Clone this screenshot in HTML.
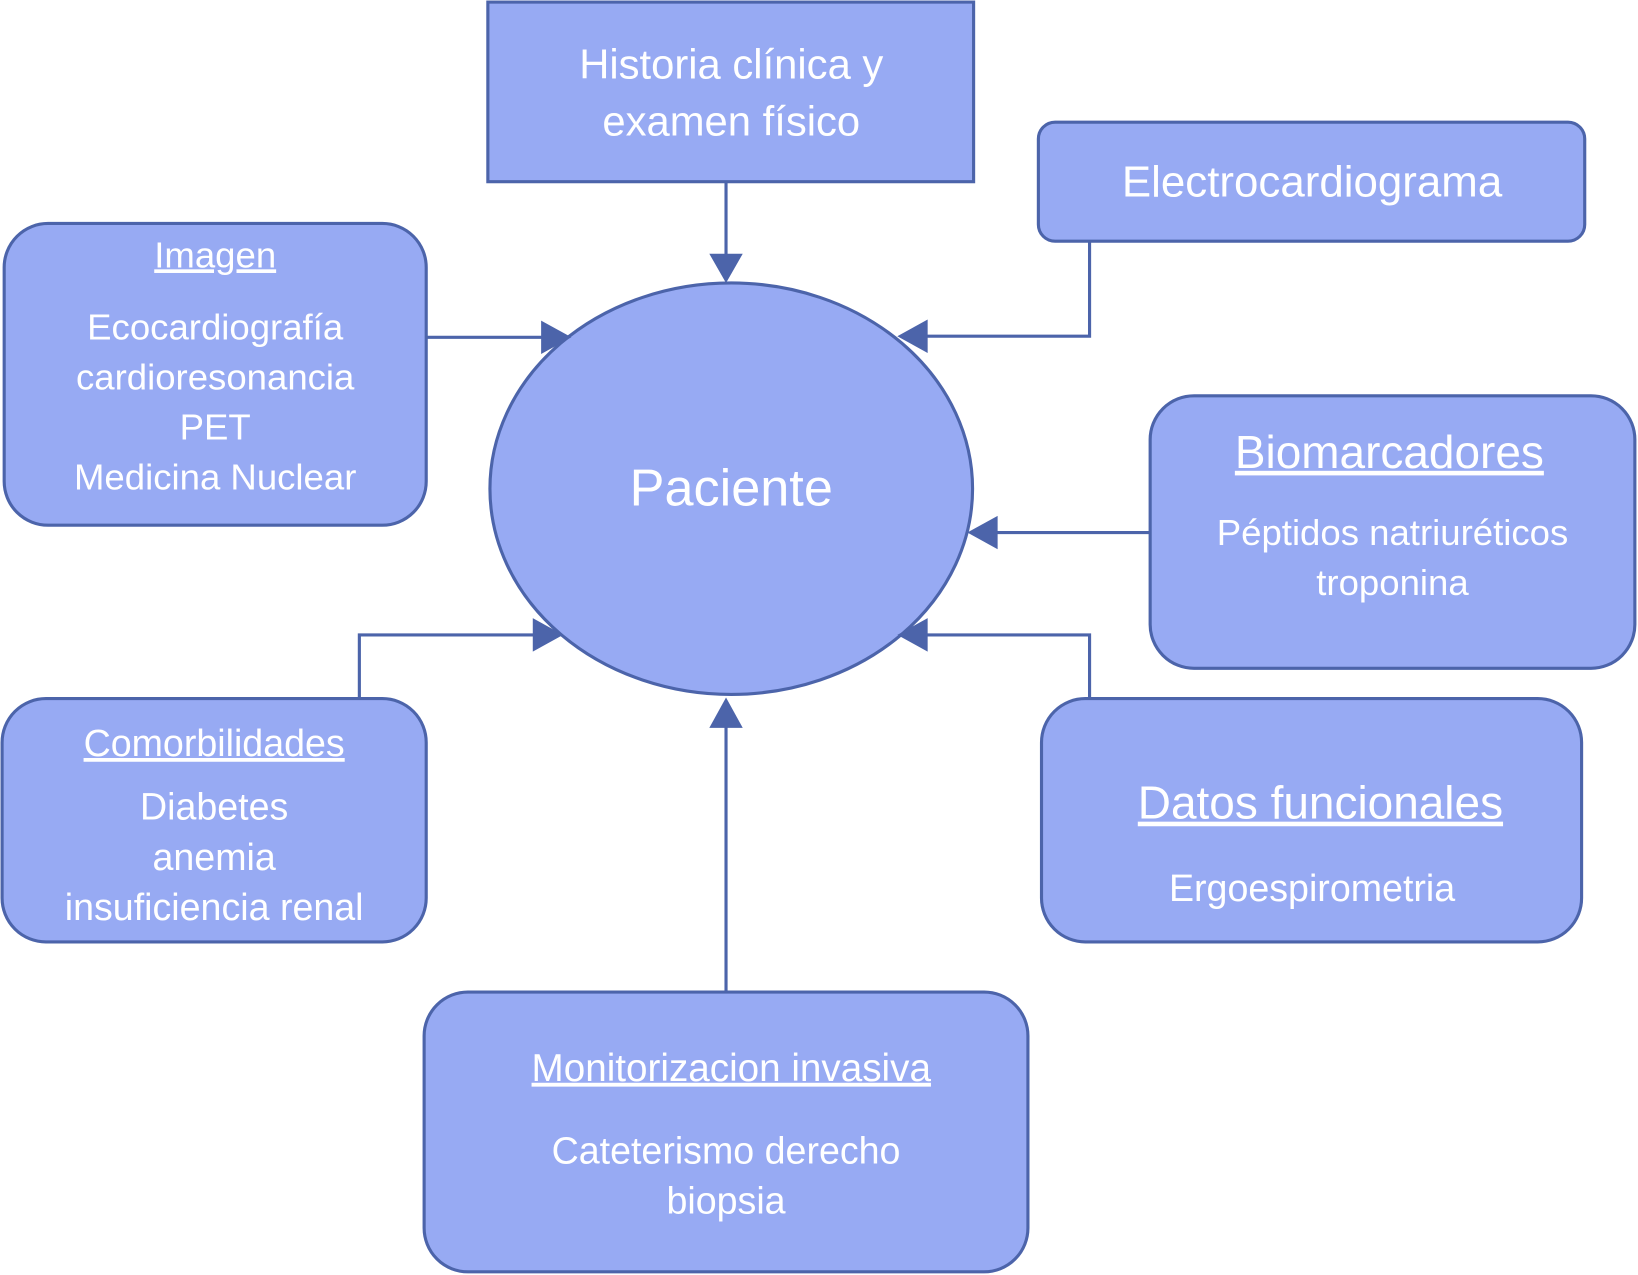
<!DOCTYPE html>
<html><head><meta charset="utf-8"><style>html,body{margin:0;padding:0;background:#fff}svg{display:block}</style></head>
<body>
<svg width="1638" height="1275" viewBox="0 0 1568 1221" preserveAspectRatio="none" xmlns="http://www.w3.org/2000/svg" font-family="Liberation Sans, Arial, sans-serif" fill="#fff">
<g fill="#97aaf3" stroke="#4c64aa" stroke-width="3">
<rect x="467" y="2" width="465" height="172"/>
<rect x="994" y="117" width="523" height="114" rx="16"/>
<rect x="4" y="214" width="404" height="289" rx="42"/>
<rect x="1101" y="379" width="464" height="261" rx="42"/>
<rect x="2" y="669" width="406" height="233" rx="42"/>
<rect x="997" y="669" width="517" height="233" rx="42"/>
<rect x="406" y="950" width="578" height="268" rx="42"/>
<ellipse cx="700" cy="468" rx="231" ry="197"/>
</g>
<g stroke="#4c64aa" stroke-width="3" fill="none">
<path d="M695 174V245"/>
<path d="M408 323H520"/>
<path d="M1043 231V322H886"/>
<path d="M1101 510H953"/>
<path d="M344 669V608H512"/>
<path d="M1043 669V608H886"/>
<path d="M695 950V695"/>
</g>
<g fill="#4c64aa">
<path d="M679 243H711L695 271Z"/>
<path d="M518 307V339L547 323Z"/>
<path d="M888 306V338L859 322Z"/>
<path d="M955 494V526L926 510Z"/>
<path d="M510 592V624L539 608Z"/>
<path d="M888 592V624L859 608Z"/>
<path d="M679 697H711L695 668Z"/>
</g>
<g text-anchor="middle" font-size="40">
<text x="700" y="75">Historia clínica y</text>
<text x="700" y="130">examen físico</text>
<text x="1256" y="188" font-size="42">Electrocardiograma</text>
<text x="700" y="484" font-size="50">Paciente</text>
<text x="206" y="256" font-size="35" text-decoration="underline">Imagen</text>
<text x="206" y="325" font-size="35">Ecocardiografía</text>
<text x="206" y="373" font-size="35">cardioresonancia</text>
<text x="206" y="421" font-size="35">PET</text>
<text x="206" y="469" font-size="35">Medicina Nuclear</text>
<text x="1330" y="448" font-size="44" text-decoration="underline">Biomarcadores</text>
<text x="1333" y="522" font-size="35">Péptidos natriuréticos</text>
<text x="1333" y="570" font-size="35">troponina</text>
<text x="205" y="724" font-size="36" text-decoration="underline">Comorbilidades</text>
<text x="205" y="785" font-size="36">Diabetes</text>
<text x="205" y="833" font-size="36">anemia</text>
<text x="205" y="881" font-size="36">insuficiencia renal</text>
<text x="1264" y="784" font-size="44" text-decoration="underline">Datos funcionales</text>
<text x="1256" y="863" font-size="36">Ergoespirometria</text>
<text x="700" y="1035" font-size="37" text-decoration="underline">Monitorizacion invasiva</text>
<text x="695" y="1114" font-size="36">Cateterismo derecho</text>
<text x="695" y="1162" font-size="36">biopsia</text>
</g>
</svg>
</body></html>
